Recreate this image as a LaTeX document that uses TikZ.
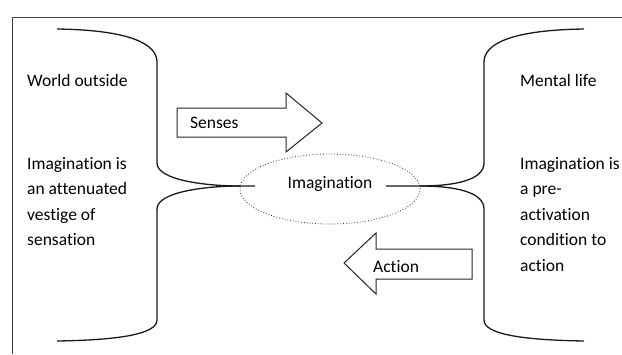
\documentclass[tikz,border=0pt]{standalone}
\usepackage{fontspec}
\setmainfont[Ligatures=NoCommon]{Carlito}
\usetikzlibrary{shapes.geometric}
\begin{document}
\begin{tikzpicture}[x=1pt,y=-1pt,
  lbl/.style={font=\fontsize{17.5}{25.5}\selectfont, inner sep=0pt, anchor=north west, align=left},
  txt/.style={font=\fontsize{17.5}{20}\selectfont, inner sep=0pt},
  bracket/.style={line width=1.3pt, black!90},
  bigarrow/.style={draw=black!85, line width=1pt, fill=white, line join=miter},
  frame/.style={draw=black!75, line width=0.8pt}]
\useasboundingbox (0,0) rectangle (622,354);

% outer frame (only top and left edges lie inside the page)
\draw[frame] (12,354) -- (12,17) -- (622,17);

% left bracket
\draw[bracket] (57,29) .. controls (130,30) and (157,44) .. (157,62) -- (157,163)
  .. controls (157,180) and (205,186) .. (240,186) -- (255,186);
\draw[bracket] (240,186) .. controls (205,186) and (157,192) .. (157,209) -- (157,320)
  .. controls (157,334) and (120,340) .. (57,341);

% right bracket
\draw[bracket] (386,186) -- (420,186) .. controls (455,186) and (484,180) .. (484,163) -- (484,62)
  .. controls (484,44) and (511,30) .. (584,29);
\draw[bracket] (420,186) .. controls (455,186) and (484,192) .. (484,209) -- (484,320)
  .. controls (484,334) and (521,340) .. (584,341);

% central dotted ellipse
\node[draw=black!80, dotted, line width=0.8pt, ellipse, minimum width=180pt, minimum height=70pt, inner sep=0pt] (imag) at (330,189) {};
\node[txt] (imagtxt) at (330,184) {Imagination};

% block arrows
\draw[bigarrow] (177,108) -- (286,108) -- (286,93) -- (322,123) -- (286,152) -- (286,137) -- (177,137) -- cycle;
\node[txt, anchor=west] (senses) at (190,123) {Senses};

\draw[bigarrow] (472,249) -- (376,249) -- (376,233) -- (344,263) -- (376,294) -- (376,279) -- (472,279) -- cycle;
\node[txt, anchor=west] (action) at (373,267) {Action};

% side texts
\node[lbl] (world) at (27,74) {World outside};
\node[lbl] (lefttxt) at (27,157) {Imagination is\\an attenuated\\vestige of\\sensation};
\node[lbl] (mental) at (520,74) {Mental life};
\node[lbl] (righttxt) at (520,157) {Imagination is\\a pre-\\activation\\condition to\\action};
\end{tikzpicture}
\end{document}
